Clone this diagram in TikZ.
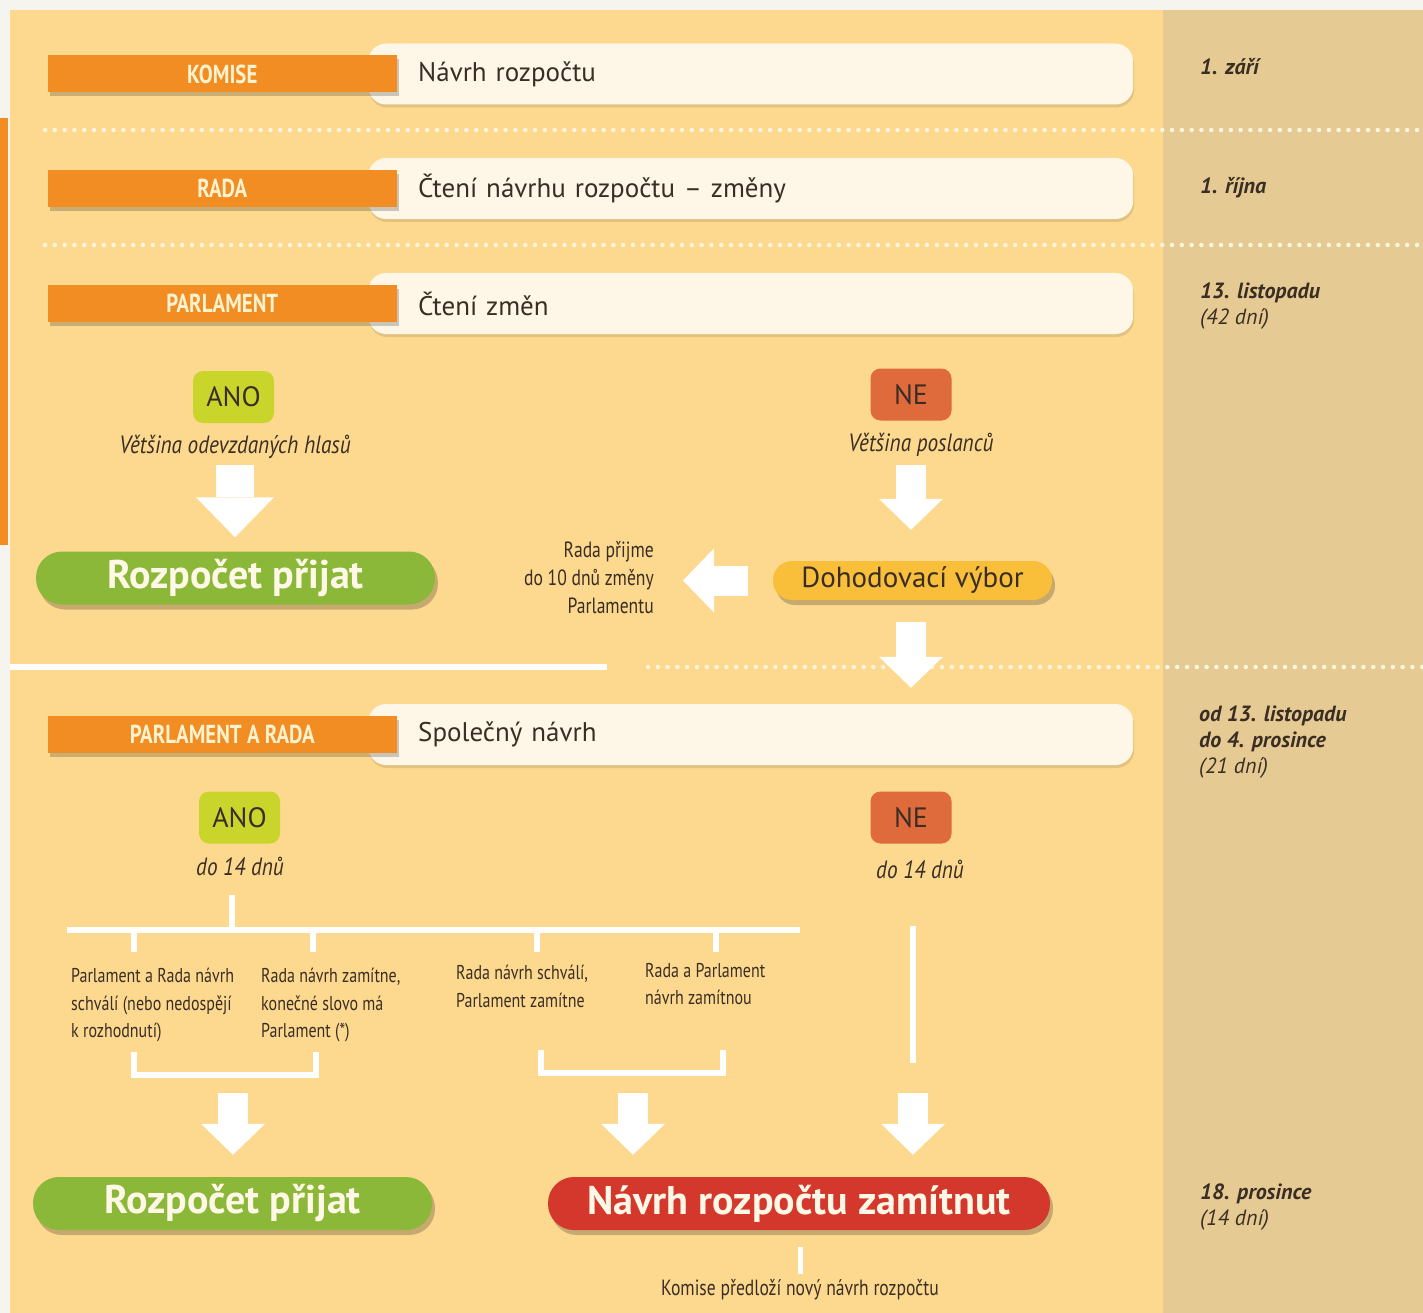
\documentclass[tikz,border=0pt]{standalone}
\usepackage{fontspec}
\setmainfont{PT Sans}
\newfontfamily\condfont[FakeStretch=0.8]{PT Sans}
\newfontfamily\notefont[FakeStretch=0.85]{PT Sans}
\usepackage{tikz}
\usetikzlibrary{positioning,shadows,arrows.meta}

\definecolor{outer}{HTML}{F6F4EF}
\definecolor{panel}{HTML}{FDD98F}
\definecolor{rightcol}{HTML}{E6CA94}
\definecolor{lblorange}{HTML}{F18D22}
\definecolor{lbltext}{HTML}{FFF2CF}
\definecolor{rowfill}{HTML}{FEF6E6}
\definecolor{ink}{HTML}{3A2E24}
\definecolor{dotcol}{HTML}{FFF4DC}
\definecolor{anofill}{HTML}{CAD52C}
\definecolor{nefill}{HTML}{DF6A3C}
\definecolor{okgreen}{HTML}{8CB83A}
\definecolor{dohodfill}{HTML}{F9BF3B}
\definecolor{nored}{HTML}{D4372C}
\definecolor{pilltext}{HTML}{FFF8E6}

\begin{document}
\begin{tikzpicture}[x=1pt,y=-1pt,
    lbl/.style={fill=lblorange,minimum width=349pt,minimum height=37pt,inner sep=0pt,anchor=east,
      text=lbltext,font=\condfont\bfseries\fontsize{26}{26}\selectfont,
      drop shadow={shadow xshift=2pt,shadow yshift=-4pt,opacity=.2,fill=black}},
    row/.style={fill=rowfill,rounded corners=18pt,minimum height=61pt,text width=665pt,
      inner xsep=50pt,inner ysep=0pt,align=left,anchor=west,text=ink,
      font=\fontsize{27}{27}\selectfont,
      drop shadow={shadow xshift=1pt,shadow yshift=-3pt,opacity=.1,fill=black}},
    vote/.style={rounded corners=10pt,minimum width=81pt,minimum height=52pt,inner sep=0pt,
      text=ink,font=\fontsize{28}{28}\selectfont},
    note/.style={text=ink,inner sep=0pt,font=\notefont\itshape\fontsize{25}{25}\selectfont},
    pill/.style={rounded corners=26pt,minimum height=53pt,inner sep=0pt,text=pilltext,
      font=\bfseries\fontsize{40}{40}\selectfont,
      drop shadow={shadow xshift=3pt,shadow yshift=-5pt,opacity=.22,fill=black}},
    small/.style={text=ink,inner sep=0pt,font=\condfont\fontsize{20}{27.5}\selectfont},
    date/.style={text=ink,inner sep=0pt,anchor=north west,align=left,
      font=\bfseries\itshape\fontsize{22}{26}\selectfont},
    dots/.style={draw=dotcol,line width=4.5pt,line cap=round,dash pattern=on 0pt off 9.8pt},
    tree/.style={draw=white,line width=6pt},
    bigarr/.style={draw=white,line width=38pt,-{Triangle[length=40pt,width=78pt,line width=0pt]}},
    arr/.style={draw=white,line width=30pt,-{Triangle[length=31pt,width=64pt,line width=0pt]}}]

  \useasboundingbox (0,0) rectangle (1423,1313);
  \fill[outer] (0,0) rectangle (1423,1313);
  \fill[panel] (10,10) rectangle (1163,1313);
  \fill[rightcol] (1163,10) rectangle (1423,1313);
  \fill[lblorange] (0,118) rectangle (8,545);
  \draw[dots] (45,130) -- (1423,130);
  \draw[dots] (45,245) -- (1423,245);
  \draw[tree] (10,667) -- (607,667);
  \draw[dots] (648,667) -- (1423,667);

  % phases
  \node[row] (navrh) at (368,74) {Návrh rozpočtu};
  \node[lbl,left=-29pt of navrh.west] (komise) {KOMISE};
  \node[row] (cteni) at (368,188.5) {Čtení návrhu rozpočtu -- změny};
  \node[lbl,left=-29pt of cteni.west] (rada) {RADA};
  \node[row] (zmeny) at (368,303.5) {Čtení změn};
  \node[lbl,left=-29pt of zmeny.west] (parl) {PARLAMENT};

  \node[vote,fill=anofill] (ano1) at (233.5,397) {ANO};
  \node[note] (vet1) at (235,447) {Většina odevzdaných hlasů};
  \node[vote,fill=nefill] (ne1) at (911,394.5) {NE};
  \node[note] (vet2) at (921,445) {Většina poslanců};

  \node[pill,fill=okgreen,minimum width=399pt] (prijat1) at (235.5,578) {Rozpočet přijat};
  \node[pill,fill=dohodfill,minimum width=279pt,minimum height=39pt,rounded corners=19pt,
    text=ink,font=\fontsize{29}{29}\selectfont] (dohod) at (912.5,580.5) {Dohodovací výbor};
  \node[small,align=right,anchor=east,font=\condfont\fontsize{22}{28}\selectfont] (radaprijme) at (654,578) {Rada přijme\\do 10 dnů změny\\Parlamentu};

  \node[row] (spolecny) at (368,734.5) {Společný návrh};
  \node[lbl,left=-29pt of spolecny.west] (parlrada) {PARLAMENT A RADA};

  \draw[bigarr,shorten <=6pt,shorten >=14pt] (vet1.south) -- (vet1.south |- prijat1.north);
  \draw[arr,shorten <=8pt,shorten >=31pt] (vet2.south -| ne1) -- (ne1 |- dohod.north);
  \draw[arr,shorten <=25pt,shorten >=29pt] (dohod.west) -- (dohod.west -| radaprijme.east);
  \draw[arr,shorten <=22pt,shorten >=16pt] (dohod.south -| ne1) -- (ne1 |- spolecny.north);

  % conciliation
  \node[vote,fill=anofill] (ano2) at (239.5,817.5) {ANO};
  \node[note] (do14a) at (240,866) {do 14 dnů};
  \node[vote,fill=nefill] (ne2) at (911,817.5) {NE};
  \node[note] (do14b) at (920,869) {do 14 dnů};

  \node[small,anchor=north west,align=left] (t1) at (71,968) {Parlament a Rada návrh\\schválí (nebo nedospějí\\k rozhodnutí)};
  \node[small,anchor=north west,align=left] (t2) at (261,968) {Rada návrh zamítne,\\konečné slovo má\\Parlament (*)};
  \node[small,anchor=north west,align=left] (t3) at (456,965) {Rada návrh schválí,\\Parlament zamítne};
  \node[small,anchor=north west,align=left] (t4) at (645,963) {Rada a Parlament\\návrh zamítnou};

  \coordinate (barL) at (67,930);
  \coordinate (barR) at (800,930);
  \coordinate (fork) at (232,930);
  \draw[tree] (barL) -- (barR);
  \draw[tree,shorten <=19pt] (fork |- do14a.south) -- (fork);
  \foreach \k/\x/\t/\s in {tk1/134/t1/16,tk2/313/t2/16,tk3/537/t3/13,tk4/716/t4/11}{
    \coordinate (\k) at (\x,930);
    \draw[tree,shorten >=\s pt] (\k) -- (\k |- \t.north);
  }
  \draw[tree] (134,1052) |- (316,1075) -- (316,1052);
  \draw[tree] (541,1050) |- (723,1073) -- (723,1050);
  \coordinate (brA) at (233,1075);
  \coordinate (brB) at (633,1073);
  \coordinate (neend) at (913,1063);
  \draw[tree,shorten <=47pt] (neend |- do14b.south) -- (neend);

  \node[pill,fill=okgreen,minimum width=399pt] (prijat2) at (232.5,1203.5) {Rozpočet přijat};
  \node[pill,fill=nored,minimum width=502pt] (zamitnut) at (799,1203.5) {Návrh rozpočtu zamítnut};
  \node[small,font=\condfont\fontsize{22}{22}\selectfont] (komnovy) at (800,1290) {Komise předloží nový návrh rozpočtu};

  \draw[arr,shorten <=18pt,shorten >=22pt] (brA) -- (brA |- prijat2.north);
  \draw[arr,shorten <=20pt,shorten >=22pt] (brB) -- (brB |- zamitnut.north);
  \draw[arr,shorten <=30pt,shorten >=22pt] (neend) -- (neend |- zamitnut.north);
  \draw[tree,line width=5pt,shorten <=17pt,shorten >=6pt] (zamitnut.south -| komnovy) -- (komnovy.north);

  % dates
  \node[date,anchor=west] (d1) at (1200,67) {1. září};
  \node[date,anchor=west] (d2) at (1200,188) {1. října};
  \node[date] (d3) at (1200,283) {13. listopadu\\\mdseries(42 dní)};
  \node[date] (d4) at (1199,706) {od 13. listopadu\\do 4. prosince\\\mdseries(21 dní)};
  \node[date] (d5) at (1200,1184) {18. prosince\\\mdseries(14 dní)};
\end{tikzpicture}
\end{document}
